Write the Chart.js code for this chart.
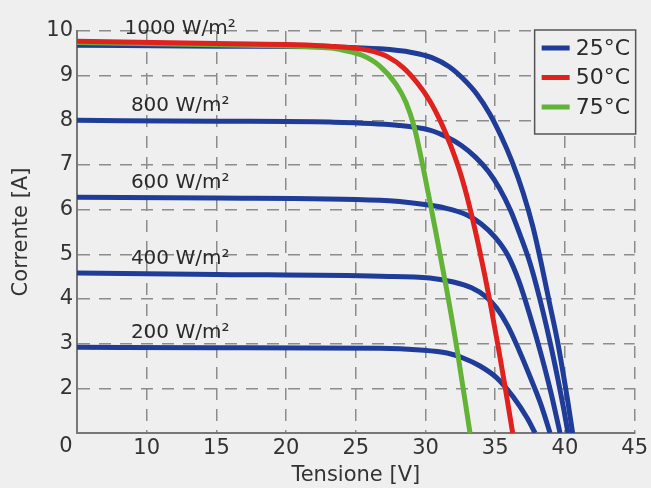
<!DOCTYPE html>
<html>
<head>
<meta charset="utf-8">
<script src="https://cdn.jsdelivr.net/npm/chart.js@4/dist/chart.umd.min.js"></script>
<style>
  html, body { margin: 0; padding: 0; background: #efefef; }
  canvas { display: block; }
</style>
</head>
<body>
<canvas id="c" width="651" height="488"></canvas>
<script>
// ---- data ----
const temperatureLabels = ['25°C', '50°C', '75°C'];
const irradianceLabels = ['1000 W/m²', '800 W/m²', '600 W/m²', '400 W/m²', '200 W/m²'];

const v25_1000 = [5, 15, 23.15, 26.74, 29.0, 30.5, 31.7, 32.7, 33.7, 34.6, 35.4, 36.2, 37.0, 37.7, 38.3, 38.9, 39.5, 40.0, 40.2, 40.55];
const i25_1000 = [9.68, 9.66, 9.64, 9.60, 9.52, 9.40, 9.20, 8.93, 8.58, 8.15, 7.66, 7.08, 6.38, 5.62, 4.80, 3.90, 3.00, 2.10, 1.72, 1.0];

const v25_800 = [5, 15, 23.15, 27.96, 30.3, 31.5, 32.6, 33.6, 34.5, 35.3, 36.1, 36.8, 37.5, 38.2, 38.9, 39.5, 39.9, 40.22];
const i25_800 = [8.00, 7.98, 7.96, 7.89, 7.78, 7.63, 7.43, 7.17, 6.86, 6.48, 5.98, 5.42, 4.80, 4.00, 3.08, 2.20, 1.56, 1.0];

const v25_600 = [5, 15, 26.74, 29.8, 31.5, 32.9, 34.0, 35.0, 35.9, 36.7, 37.5, 38.3, 39.0, 39.65];
const i25_600 = [6.28, 6.26, 6.21, 6.12, 6.03, 5.89, 5.68, 5.38, 4.98, 4.40, 3.62, 2.75, 1.90, 1.0];

const v25_400 = [5, 15, 26.74, 30.3, 32.0, 33.3, 34.3, 35.1, 35.9, 36.7, 37.5, 38.3, 38.93];
const i25_400 = [4.58, 4.55, 4.51, 4.47, 4.38, 4.25, 4.06, 3.80, 3.40, 2.86, 2.26, 1.62, 1.0];

const v25_200 = [5, 15, 26.74, 29.61, 31.54, 32.69, 33.91, 35.13, 36.28, 37.28, 37.86];
const i25_200 = [2.92, 2.91, 2.90, 2.86, 2.79, 2.68, 2.50, 2.23, 1.81, 1.34, 1.0];

const v50_1000 = [5, 15, 23.15, 26.0, 27.3, 28.4, 29.4, 30.3, 31.1, 31.8, 32.5, 33.2, 33.9, 34.6, 35.2, 35.7, 36.25];
const i50_1000 = [9.77, 9.72, 9.66, 9.56, 9.42, 9.18, 8.84, 8.44, 7.96, 7.44, 6.82, 6.02, 5.06, 3.98, 2.95, 2.05, 1.0];

const v75_1000 = [5, 15, 23.15, 24.1, 25.5, 26.7, 27.9, 28.6, 29.2, 29.7, 30.2, 30.7, 31.5, 32.3, 33.19];
const i75_1000 = [9.74, 9.69, 9.62, 9.57, 9.45, 9.22, 8.80, 8.40, 7.84, 7.14, 6.36, 5.56, 4.24, 2.80, 1.0];

// ---- helpers ----
const toPts = (v, i) => v.map((x, k) => ({ x: x, y: i[k] }));
const BLUE = '#1f3d98', RED = '#e0221f', GREEN = '#62b337';
const BG = '#efefef';
const FONT = 'DejaVu Sans';

const curves25 = [[v25_1000, i25_1000], [v25_800, i25_800], [v25_600, i25_600], [v25_400, i25_400], [v25_200, i25_200]];

const lineStyle = { borderWidth: 5, pointRadius: 0, cubicInterpolationMode: 'monotone', fill: false };

const datasets = curves25.map((c, k) => Object.assign({
  label: temperatureLabels[0] + ' ' + irradianceLabels[k],
  legendLabel: k === 0 ? temperatureLabels[0] : null,
  data: toPts(c[0], c[1]),
  borderColor: BLUE,
  order: 2
}, lineStyle));
datasets.push(Object.assign({ label: temperatureLabels[1], legendLabel: temperatureLabels[1], data: toPts(v50_1000, i50_1000), borderColor: RED, order: 0 }, lineStyle));
datasets.push(Object.assign({ label: temperatureLabels[2], legendLabel: temperatureLabels[2], data: toPts(v75_1000, i75_1000), borderColor: GREEN, order: 1 }, lineStyle));

const bgPlugin = {
  id: 'bg',
  beforeDraw(chart) {
    const ctx = chart.ctx;
    ctx.save();
    ctx.fillStyle = BG;
    ctx.fillRect(0, 0, chart.width, chart.height);
    ctx.restore();
  }
};

const annotPlugin = {
  id: 'annot',
  afterDatasetsDraw(chart) {
    const ctx = chart.ctx;
    const xs = chart.scales.x, ys = chart.scales.y;
    ctx.save();
    ctx.fillStyle = '#2a2a2a';
    ctx.font = '20px "' + FONT + '"';
    ctx.textAlign = 'center';
    ctx.textBaseline = 'middle';
    curves25.forEach((c, k) => {
      const yv = c[1][0] + (k === 0 ? 0.36 : 0.33);
      ctx.fillText(irradianceLabels[k], xs.getPixelForValue(12.4), ys.getPixelForValue(yv));
    });
    // corner "0" label
    ctx.fillStyle = '#333';
    ctx.font = '21px "' + FONT + '"';
    ctx.fillText('0', chart.chartArea.left - 11, chart.chartArea.bottom + 14);
    ctx.restore();
  },
  afterDraw(chart) {
    // legend box inside the plot area (top right)
    const ctx = chart.ctx;
    const ca = chart.chartArea;
    const w = 101, h = 104;
    const x0 = ca.right + 1 - w, y0 = ca.top - 1;
    ctx.save();
    ctx.fillStyle = BG;
    ctx.fillRect(x0, y0, w, h);
    ctx.strokeStyle = '#555';
    ctx.lineWidth = 1.5;
    ctx.strokeRect(x0, y0, w, h);
    const items = chart.data.datasets.filter(d => d.legendLabel);
    ctx.font = '22px "' + FONT + '"';
    ctx.textAlign = 'left';
    ctx.textBaseline = 'middle';
    items.forEach((d, k) => {
      const yy = y0 + 18 + k * 29.5;
      ctx.strokeStyle = d.borderColor;
      ctx.lineWidth = 5;
      ctx.beginPath();
      ctx.moveTo(x0 + 7, yy);
      ctx.lineTo(x0 + 35, yy);
      ctx.stroke();
      ctx.fillStyle = '#2a2a2a';
      ctx.fillText(d.legendLabel, x0 + 41, yy + 1);
    });
    ctx.restore();
  }
};

Chart.defaults.font.family = FONT;

new Chart(document.getElementById('c'), {
  type: 'line',
  data: { datasets: datasets },
  options: {
    responsive: false,
    animation: false,
    layout: { padding: { top: 31, right: 16, left: 0, bottom: 0 } },
    plugins: {
      legend: { display: false },
      tooltip: { enabled: false }
    },
    scales: {
      x: {
        type: 'linear',
        min: 5, max: 45,
        afterFit(s) { s.height = 55; },
        ticks: {
          stepSize: 5,
          color: '#333',
          font: { size: 21 },
          padding: 3,
          maxRotation: 0,
          callback: v => (v === 5 ? '' : v)
        },
        grid: { color: '#8c8c8c', lineWidth: 1.5, drawTicks: false },
        border: { display: true, color: '#777', width: 2, dash: [12, 9] },
        title: { display: true, text: 'Tensione [V]', color: '#333', font: { size: 21 }, padding: { top: 0, bottom: 0 } }
      },
      y: {
        type: 'linear',
        min: 1, max: 10,
        afterFit(s) { s.width = 77; },
        ticks: {
          stepSize: 1,
          color: '#333',
          font: { size: 21 },
          padding: 4,
          callback: v => (v === 1 ? '' : v)
        },
        grid: { color: '#8c8c8c', lineWidth: 1.5, drawTicks: false },
        border: { display: true, color: '#777', width: 2, dash: [12, 9] },
        title: { display: true, text: 'Corrente [A]', color: '#333', font: { size: 21 }, padding: { top: 9, bottom: 0 } }
      }
    }
  },
  plugins: [bgPlugin, annotPlugin]
});
</script>
</body>
</html>
